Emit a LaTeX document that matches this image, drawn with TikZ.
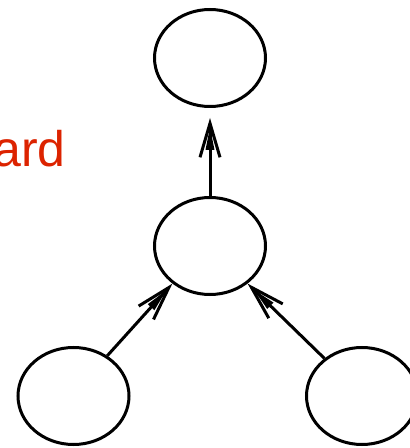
\documentclass[tikz,border=0pt]{standalone}
\usepackage{fontspec}
\setmainfont{Liberation Sans}
\usetikzlibrary{shapes.geometric,arrows.meta}
\definecolor{labelred}{RGB}{220,35,0}
\begin{document}
\begin{tikzpicture}[x=1pt,y=1pt,
  state/.style={draw=black,ellipse,line width=3pt,minimum width=111pt,minimum height=97pt,inner sep=0pt},
  edge/.style={line width=3pt,-{Triangle[length=24pt,width=8pt,sep=-33pt] Straight Barb[length=34pt,width=20pt,line width=3pt]}}]
  \clip (0,0) rectangle (410,448);
  \useasboundingbox (0,0) rectangle (410,448);
  % tree of states
  \node[state] (top) at (210,390) {};
  \node[state] (mid) at (210,202) {};
  \node[state] (bl) at (73.5,52) {};
  \node[state] (br) at (362,52) {};
  % upward edges
  \draw[edge,shorten >=10pt] (mid.north) -- (top.south);
  \draw[edge] (bl.50) -- (mid.225);
  \draw[edge] (br.135) -- (mid.315);
  % label
  \node[anchor=base east,inner sep=0pt,text=labelred,font=\fontsize{50}{60}\selectfont] (lbl) at (66,281) {ard};
\end{tikzpicture}
\end{document}
